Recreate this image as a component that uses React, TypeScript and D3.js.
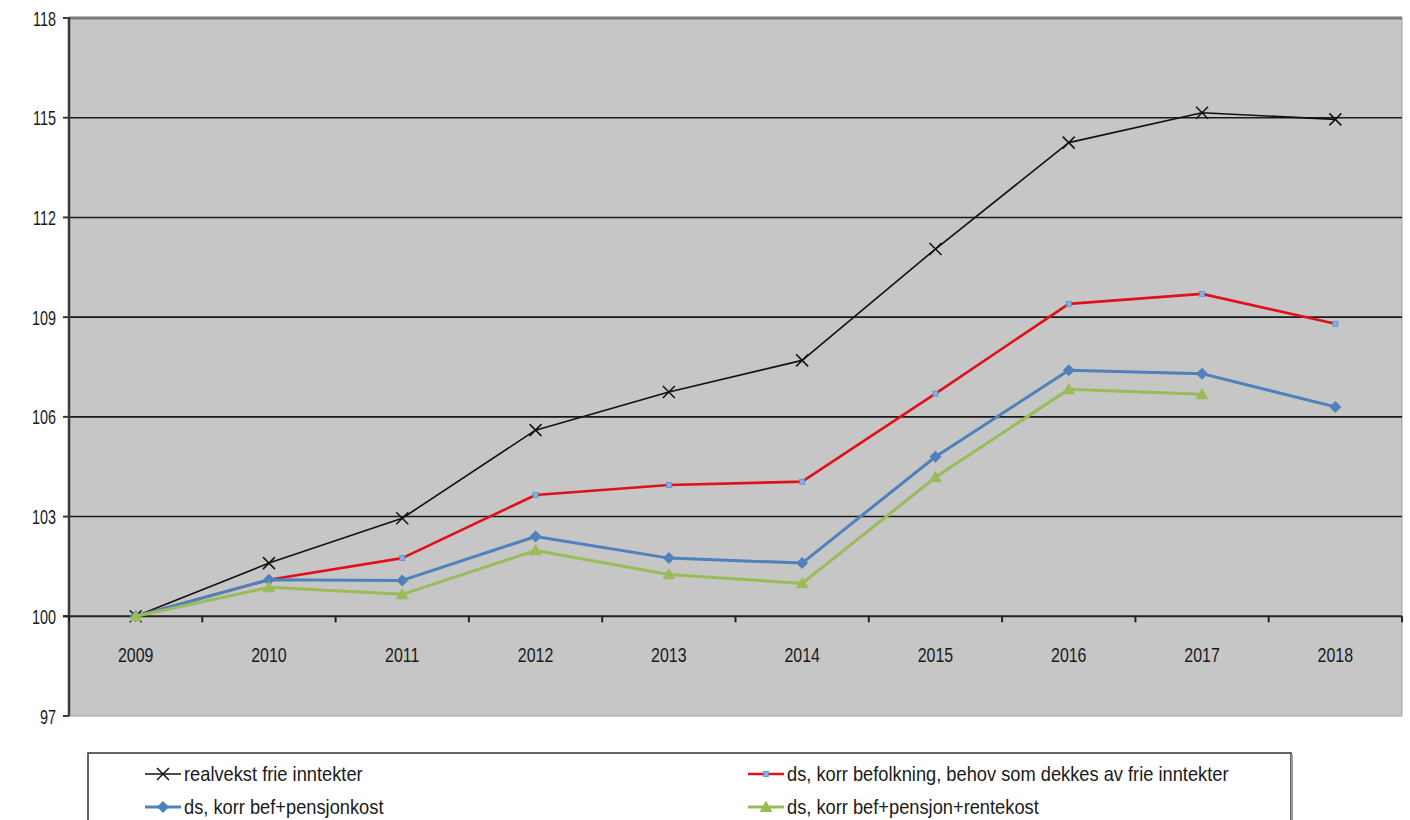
import React from "react";
import * as d3 from "d3";

const years = ["2009", "2010", "2011", "2012", "2013", "2014", "2015", "2016", "2017", "2018"];
const realvekst = [100, 101.6, 102.95, 105.6, 106.75, 107.7, 111.05, 114.25, 115.15, 114.95];
const korrBefolkning = [100, 101.1, 101.75, 103.65, 103.95, 104.05, 106.7, 109.4, 109.7, 108.8];
const korrPensjon = [100, 101.1, 101.08, 102.4, 101.75, 101.6, 104.8, 107.4, 107.3, 106.3];
const korrRente = [100, 100.87, 100.66, 101.98, 101.26, 100.99, 104.18, 106.83, 106.68, null];
const yTicks = [97, 100, 103, 106, 109, 112, 115, 118];
const seriesNames = [
  "realvekst frie inntekter",
  "ds, korr befolkning, behov som dekkes av frie inntekter",
  "ds, korr bef+pensjonkost",
  "ds, korr bef+pensjon+rentekost",
];

const W = 1410, H = 820;
const L = 69, R = 1402, T = 18, B = 716;
const FONT = "'Liberation Sans', Arial, sans-serif";

function Marker({ kind, x, y }: { kind: string; x: number; y: number }) {
  if (kind === "x") {
    const s = 6;
    return (
      <g stroke="#111" strokeWidth={1.5}>
        <line x1={x - s} y1={y - s} x2={x + s} y2={y + s} />
        <line x1={x - s} y1={y + s} x2={x + s} y2={y - s} />
      </g>
    );
  }
  if (kind === "sq") {
    return <rect x={x - 2.5} y={y - 2.5} width={5} height={5} fill="#7fb0e6" stroke="#5b8fd0" strokeWidth={0.8} />;
  }
  if (kind === "dia") {
    const s = 6;
    return <path d={`M${x},${y - s}L${x + s},${y}L${x},${y + s}L${x - s},${y}Z`} fill="#4f81bd" />;
  }
  const s = 6.5;
  return <path d={`M${x},${y - s}L${x + s},${y + s * 0.75}L${x - s},${y + s * 0.75}Z`} fill="#9bbb59" />;
}

function NText({ x, y, anchor, size, sx, children }: any) {
  return (
    <text
      transform={`translate(${x},${y}) scale(${sx},1)`}
      textAnchor={anchor}
      fontFamily={FONT}
      fontSize={size}
      fill="#1a1a1a"
    >
      {children}
    </text>
  );
}

export default function App() {
  const x = d3.scaleBand<string>().domain(years).range([L, R]);
  const y = d3.scaleLinear().domain([97, 118]).range([B, T]);
  const cx = (yr: string) => (x(yr) as number) + x.bandwidth() / 2;

  const series = [
    { vals: realvekst, color: "#111", width: 1.6, marker: "x" },
    { vals: korrBefolkning, color: "#e0111b", width: 2.6, marker: "sq" },
    { vals: korrPensjon, color: "#4f81bd", width: 3, marker: "dia" },
    { vals: korrRente, color: "#9bbb59", width: 3, marker: "tri" },
  ];
  const line = d3
    .line<number | null>()
    .defined((d) => d != null)
    .x((_, i) => cx(years[i]))
    .y((d) => y(d as number));

  const y100 = y(100);
  const bounds = d3.range(years.length + 1).map((i) => L + i * x.step());

  const legendItems = [
    { s: series[0], name: seriesNames[0], lx: 145, ly: 774 },
    { s: series[1], name: seriesNames[1], lx: 748, ly: 774 },
    { s: series[2], name: seriesNames[2], lx: 145, ly: 807 },
    { s: series[3], name: seriesNames[3], lx: 748, ly: 807 },
  ];

  return (
    <svg width={W} height={H} style={{ position: "absolute", left: 0, top: 0, background: "#fff" }}>
      <rect x={L} y={T} width={R - L} height={B - T} fill="#c6c6c6" stroke="#a0a0a0" strokeWidth={1} />
      {yTicks.filter((t) => t !== 97 && t !== 100 && t !== 118).map((t) => (
        <line key={t} x1={L} x2={R} y1={y(t)} y2={y(t)} stroke="#1a1a1a" strokeWidth={1.6} />
      ))}
      <line x1={L} x2={R} y1={y(118)} y2={y(118)} stroke="#7a7a7a" strokeWidth={3} />
      <line x1={L} x2={L} y1={T - 1} y2={B} stroke="#3a3a3a" strokeWidth={2.5} />
      {yTicks.map((t) => (
        <g key={t}>
          <line x1={L - 6} x2={L} y1={y(t)} y2={y(t)} stroke="#3a3a3a" strokeWidth={2} />
          <NText x={56} y={y(t) + 7.5} anchor="end" size={20} sx={0.72}>
            {t}
          </NText>
        </g>
      ))}
      <line x1={L - 6} x2={R} y1={y100} y2={y100} stroke="#222" strokeWidth={2} />
      {bounds.map((b, i) => (
        <line key={i} x1={b} x2={b} y1={y100} y2={y100 + 6} stroke="#222" strokeWidth={2} />
      ))}
      {years.map((yr) => (
        <NText key={yr} x={cx(yr)} y={y100 + 46} anchor="middle" size={21} sx={0.76}>
          {yr}
        </NText>
      ))}
      {series.map((s, si) => (
        <g key={si}>
          <path d={line(s.vals) || ""} fill="none" stroke={s.color} strokeWidth={s.width} strokeLinejoin="round" />
          {s.vals.map((v, i) =>
            v == null ? null : <Marker key={i} kind={s.marker} x={cx(years[i])} y={y(v)} />
          )}
        </g>
      ))}
      <rect x={88} y={753} width={1203} height={80} fill="#fff" stroke="#333" strokeWidth={1.5} />
      <line x1={1292} x2={1292} y1={755} y2={820} stroke="#999" strokeWidth={2} />
      {legendItems.map((it, i) => (
        <g key={i}>
          <line x1={it.lx} x2={it.lx + 36} y1={it.ly} y2={it.ly} stroke={it.s.color} strokeWidth={it.s.width} />
          <Marker kind={it.s.marker} x={it.lx + 18} y={it.ly} />
          <NText x={it.lx + 39} y={it.ly + 7} anchor="start" size={21} sx={0.87}>
            {it.name}
          </NText>
        </g>
      ))}
    </svg>
  );
}
